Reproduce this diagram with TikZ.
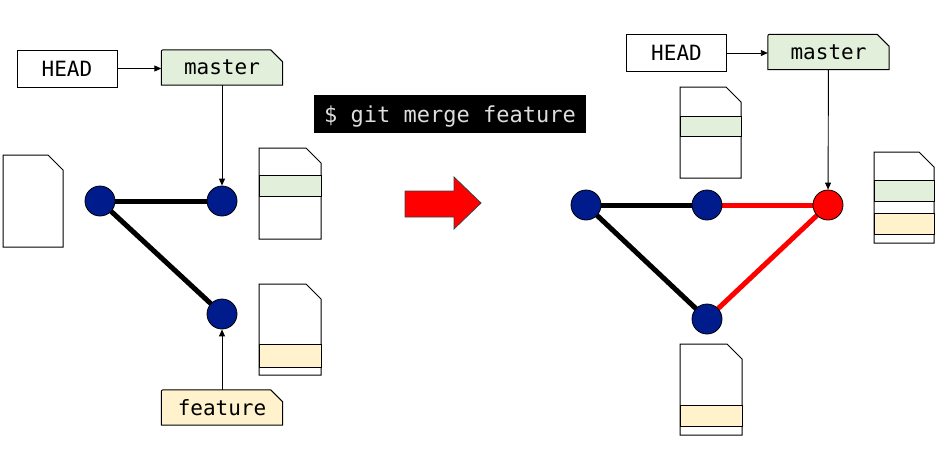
\documentclass[tikz,border=0pt]{standalone}
\usepackage{fontspec}
\newfontfamily\monof{DejaVu Sans Mono}
\usetikzlibrary{arrows.meta,backgrounds,calc}
\definecolor{gfill}{HTML}{E2EFDA}
\definecolor{yfill}{HTML}{FFF2CC}
\definecolor{cblue}{HTML}{001C8C}
\definecolor{cmdtext}{HTML}{DDDDDD}
\newcommand{\docfile}[4]{%
  \draw[line width=1pt,fill=white] (#1,#2) -- (#3-15,#2) -- (#3,#2+15) -- (#3,#4) -- (#1,#4) -- cycle;}
\newcommand{\band}[5]{\draw[line width=1pt,fill=#5] (#1,#2) rectangle (#3,#4);}
\newcommand{\tagshape}[2]{%
  \draw[line width=1pt,fill=#2] (#1.south west) -- ([yshift=-4pt]#1.north west)
    .. controls (#1.north west) .. ([xshift=4pt]#1.north west)
    -- ([xshift=-12pt]#1.north east) -- ([yshift=-12pt]#1.north east)
    -- (#1.south east) -- cycle;}
\begin{document}
\begin{tikzpicture}[x=1pt,y=-1pt,
  headbox/.style={draw, line width=1pt, fill=white, minimum width=100pt, minimum height=37pt, inner sep=0pt, font=\monof\fontsize{21}{21}\selectfont},
  tagt/.style={minimum width=121pt, minimum height=35pt, inner sep=0pt, font=\monof\fontsize{21}{21}\selectfont},
  commit/.style={circle, draw, line width=0.8pt, fill=cblue, minimum size=30pt, inner sep=0pt},
  edgeb/.style={line width=5pt},
  edger/.style={line width=5pt, red},
  ptr/.style={line width=0.9pt, -{Triangle[length=7pt,width=6pt]}}]
\useasboundingbox (0,0) rectangle (943,451);

% ---------- left side ----------
\node[headbox] (h1) at (67,68.5) {HEAD};
\node[tagt] (m1) at (222,67.5) {master};
\node[tagt] (f1) at (222,407.5) {feature};

\docfile{3}{155}{63}{247}
\docfile{259}{148}{321}{239}
\band{259}{175}{321}{196}{gfill}
\docfile{259}{284}{321}{375}
\band{259}{344}{321}{367}{yfill}

\node[commit] (A) at (100,201) {};
\node[commit] (B) at (222,201) {};
\node[commit] (C) at (222,314) {};

% ---------- middle ----------
\node[fill=black, minimum width=272pt, minimum height=38pt, inner sep=0pt, text=cmdtext,
      text height=20pt, text depth=4pt,
      font=\monof\fontsize{22}{22}\selectfont] (cmd) at (450,114) {\$ git merge feature};
\draw[fill=red, draw=gray!50!black, line width=0.8pt]
  (405,191) -- (454,191) -- (454,177) -- (481,203) -- (454,229) -- (454,217) -- (405,217) -- cycle;

% ---------- right side ----------
\node[headbox] (h2) at (676.5,53) {HEAD};
\node[tagt] (m2) at (828.5,52) {master};

\docfile{680}{87}{741}{178}
\band{680}{116}{741}{136}{gfill}
\docfile{874}{152}{934}{243}
\band{874}{180}{934}{201}{gfill}
\band{874}{213}{934}{234}{yfill}
\docfile{680}{344}{742}{435}
\band{680}{405}{742}{426}{yfill}

\node[commit] (D) at (586,205) {};
\node[commit] (E) at (707,205) {};
\node[commit, fill=red] (F) at (828,205) {};
\node[commit] (G) at (707,319) {};

% ---------- background: tags and edges ----------
\begin{scope}[on background layer]
  \tagshape{m1}{gfill}
  \tagshape{f1}{yfill}
  \tagshape{m2}{gfill}
  \draw[edgeb] (A.center) -- (B.center);
  \draw[edgeb] (A.center) -- (C.center);
  \draw[edgeb] (D.center) -- (E.center);
  \draw[edgeb] (D.center) -- (G.center);
  \draw[edger] (E.center) -- (F.center);
  \draw[edger] (G.center) -- (F.center);
\end{scope}

% ---------- pointers ----------
\draw[ptr] (h1.east) -- (h1.east -| m1.west);
\draw[ptr] (m1) -- (B);
\draw[ptr] (f1) -- (C);
\draw[ptr] (h2.east) -- (h2.east -| m2.west);
\draw[ptr] (m2) -- (F);
\end{tikzpicture}
\end{document}
